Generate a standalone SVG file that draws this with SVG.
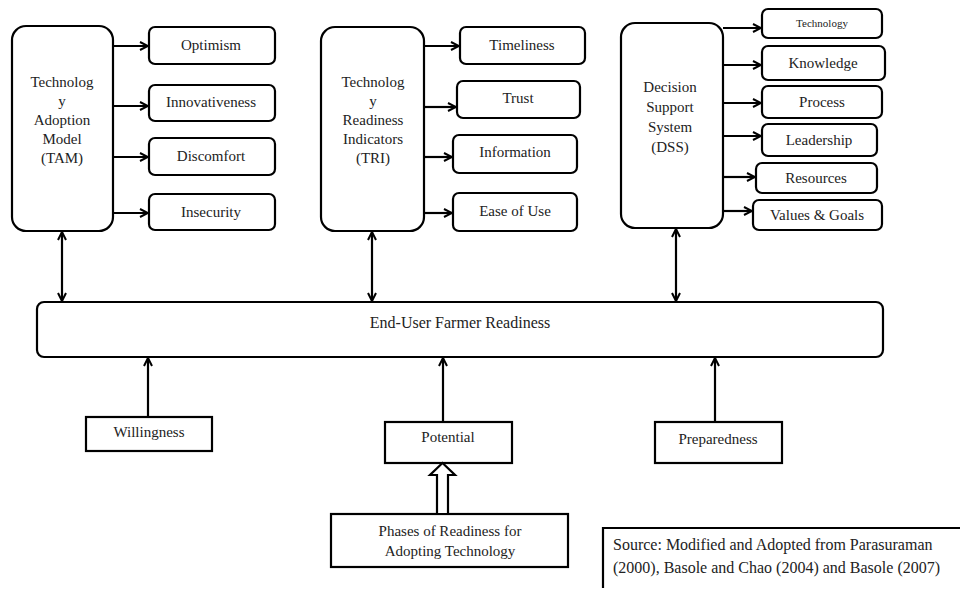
<svg xmlns="http://www.w3.org/2000/svg" width="960" height="592" viewBox="0 0 960 592">
<defs>
<style>
text{font-family:"Liberation Serif",serif;fill:#222}
.t{font-size:15px;text-anchor:middle;dominant-baseline:central}
.box{fill:#fff;stroke:#000;stroke-width:2.2}
.ln{stroke:#000;stroke-width:2.2;fill:none}
</style>
<marker id="ah" viewBox="0 0 10 10" refX="9" refY="5" markerWidth="10" markerHeight="10" markerUnits="userSpaceOnUse" orient="auto-start-reverse">
<path d="M1,1 L9,5 L1,9" fill="none" stroke="#000" stroke-width="2"/>
</marker>
</defs>
<rect width="960" height="592" fill="#fff"/>

<g id="tam"><rect class="box" x="12" y="26" width="101" height="205" rx="14"/>
<text class="t"><tspan x="62" y="82">Technolog</tspan><tspan x="62" y="101">y</tspan><tspan x="62" y="120">Adoption</tspan><tspan x="62" y="139">Model</tspan><tspan x="62" y="158">(TAM)</tspan></text></g>
<g id="optimism"><rect class="box" x="149" y="27" width="126" height="37" rx="6"/><text class="t" x="211" y="45">Optimism</text></g>
<g id="innovativeness"><rect class="box" x="149" y="85" width="126" height="36" rx="6"/><text class="t" x="211" y="102">Innovativeness</text></g>
<g id="discomfort"><rect class="box" x="149" y="138" width="126" height="37" rx="6"/><text class="t" x="211" y="156">Discomfort</text></g>
<g id="insecurity"><rect class="box" x="149" y="194" width="126" height="36" rx="6"/><text class="t" x="211" y="212">Insecurity</text></g>

<g id="tri"><rect class="box" x="321" y="27" width="103" height="204" rx="14"/>
<text class="t"><tspan x="373" y="82">Technolog</tspan><tspan x="373" y="101">y</tspan><tspan x="373" y="120">Readiness</tspan><tspan x="373" y="139">Indicators</tspan><tspan x="373" y="158">(TRI)</tspan></text></g>
<g id="timeliness"><rect class="box" x="460" y="27" width="125" height="37" rx="6"/><text class="t" x="522" y="45">Timeliness</text></g>
<g id="trust"><rect class="box" x="457" y="81" width="123" height="37" rx="6"/><text class="t" x="518" y="98">Trust</text></g>
<g id="information"><rect class="box" x="453" y="135" width="124" height="38" rx="6"/><text class="t" x="515" y="152">Information</text></g>
<g id="ease"><rect class="box" x="453" y="193" width="124" height="38" rx="6"/><text class="t" x="515" y="211">Ease of Use</text></g>

<g id="dss"><rect class="box" x="621" y="23" width="102" height="205" rx="14"/>
<text class="t"><tspan x="670" y="87">Decision</tspan><tspan x="670" y="107">Support</tspan><tspan x="670" y="127">System</tspan><tspan x="670" y="147">(DSS)</tspan></text></g>
<g id="technology"><rect class="box" x="762" y="9" width="120" height="29" rx="6"/><text class="t" x="822" y="23" style="font-size:11px">Technology</text></g>
<g id="knowledge"><rect class="box" x="762" y="46" width="123" height="34" rx="6"/><text class="t" x="823" y="63">Knowledge</text></g>
<g id="process"><rect class="box" x="762" y="86" width="120" height="32" rx="6"/><text class="t" x="822" y="102">Process</text></g>
<g id="leadership"><rect class="box" x="762" y="124" width="115" height="32" rx="6"/><text class="t" x="819" y="140">Leadership</text></g>
<g id="resources"><rect class="box" x="756" y="163" width="121" height="30" rx="6"/><text class="t" x="816" y="178">Resources</text></g>
<g id="values"><rect class="box" x="753" y="200" width="129" height="30" rx="6"/><text class="t" x="817" y="215">Values &amp; Goals</text></g>

<g id="enduser"><rect class="box" x="37" y="302" width="846" height="55" rx="7"/><text class="t" x="460" y="322" style="font-size:16px">End-User Farmer Readiness</text></g>

<g id="willingness"><rect class="box" x="86" y="417" width="126" height="34"/><text class="t" x="149" y="432">Willingness</text></g>
<g id="potential"><rect class="box" x="385" y="422" width="127" height="41"/><text class="t" x="448" y="437">Potential</text></g>
<g id="preparedness"><rect class="box" x="655" y="422" width="127" height="41"/><text class="t" x="718" y="439">Preparedness</text></g>
<g id="phases"><rect class="box" x="331" y="514" width="237" height="53"/>
<text class="t"><tspan x="450" y="531">Phases of Readiness for</tspan><tspan x="450" y="551">Adopting Technology</tspan></text></g>

<g id="source"><path class="ln" d="M603,588 L603,528 L960,528" stroke-width="1.5"/>
<text style="font-size:16px"><tspan x="613" y="550">Source: Modified and Adopted from Parasuraman</tspan><tspan x="613" y="573">(2000), Basole and Chao (2004) and Basole (2007)</tspan></text></g>

<g id="connectors">
<line class="ln" x1="113" y1="46" x2="148" y2="46" marker-end="url(#ah)"/>
<line class="ln" x1="113" y1="106" x2="148" y2="106" marker-end="url(#ah)"/>
<line class="ln" x1="113" y1="157" x2="148" y2="157" marker-end="url(#ah)"/>
<line class="ln" x1="113" y1="213" x2="148" y2="213" marker-end="url(#ah)"/>

<line class="ln" x1="424" y1="46" x2="459" y2="46" marker-end="url(#ah)"/>
<line class="ln" x1="424" y1="107" x2="456" y2="107" marker-end="url(#ah)"/>
<line class="ln" x1="424" y1="157" x2="452" y2="157" marker-end="url(#ah)"/>
<line class="ln" x1="424" y1="213" x2="452" y2="213" marker-end="url(#ah)"/>

<line class="ln" x1="723" y1="28" x2="761" y2="28" marker-end="url(#ah)"/>
<line class="ln" x1="723" y1="65" x2="761" y2="65" marker-end="url(#ah)"/>
<line class="ln" x1="723" y1="103" x2="761" y2="103" marker-end="url(#ah)"/>
<line class="ln" x1="723" y1="136" x2="761" y2="136" marker-end="url(#ah)"/>
<line class="ln" x1="723" y1="177" x2="755" y2="177" marker-end="url(#ah)"/>
<line class="ln" x1="723" y1="211" x2="752" y2="211" marker-end="url(#ah)"/>

<line class="ln" x1="62" y1="232" x2="62" y2="301" marker-start="url(#ah)" marker-end="url(#ah)"/>
<line class="ln" x1="372" y1="232" x2="372" y2="301" marker-start="url(#ah)" marker-end="url(#ah)"/>
<line class="ln" x1="676" y1="229" x2="676" y2="301" marker-start="url(#ah)" marker-end="url(#ah)"/>

<line class="ln" x1="148" y1="417" x2="148" y2="358" marker-end="url(#ah)"/>
<line class="ln" x1="443" y1="422" x2="443" y2="358" marker-end="url(#ah)"/>
<line class="ln" x1="715" y1="422" x2="715" y2="358" marker-end="url(#ah)"/>

<path d="M437,514 L437,475 L430,475 L442.5,463 L455,475 L448,475 L448,514 Z" fill="#fff" stroke="#000" stroke-width="2.2" stroke-linejoin="miter"/>
</g>
</svg>
